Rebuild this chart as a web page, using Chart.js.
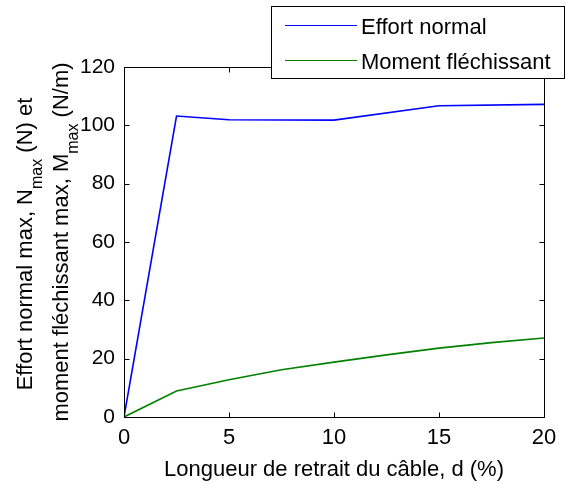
<!DOCTYPE html>
<html>
<head>
<meta charset="utf-8">
<script src="https://cdn.jsdelivr.net/npm/chart.js@4/dist/chart.umd.min.js"></script>
<style>
  html, body { margin: 0; padding: 0; background: #fff; }
  #wrap { width: 565px; height: 484px; }
</style>
</head>
<body>
<div id="wrap"><canvas id="c" width="565" height="484"></canvas></div>
<script>
// ---- data ----
const effortX = [0, 2.5, 5, 10, 15, 20];
const effortY = [0, 103.2, 101.9, 101.8, 106.7, 107.2];
const momentX = [0, 2.5, 5, 7.5, 10, 12.5, 15, 17.5, 20];
const momentY = [0, 8.9, 12.8, 16.2, 18.8, 21.3, 23.6, 25.5, 27.1];
const seriesNames = ['Effort normal', 'Moment fléchissant'];
const xTicks = [0, 5, 10, 15, 20];
const yTicks = [0, 20, 40, 60, 80, 100, 120];
const xTitle = 'Longueur de retrait du câble, d (%)';
const yTitle1 = [['Effort normal max, N', false], ['max', true], [' (N) et', false]];
const yTitle2 = [['moment fléchissant max, M', false], ['max', true], [' (N/m)', false]];

const FONT = '"Liberation Sans", Arial, sans-serif';
const colors = ['#0000ff', '#008000'];

function pts(xs, ys) { return xs.map((x, i) => ({ x: x, y: ys[i] })); }

function drawRich(ctx, parts, cx, baseY, mainSize, subSize, subOff) {
  let total = 0;
  const widths = parts.map(p => {
    ctx.font = (p[1] ? subSize : mainSize) + 'px ' + FONT;
    const w = ctx.measureText(p[0]).width;
    total += w;
    return w;
  });
  let x = cx - total / 2;
  parts.forEach((p, i) => {
    ctx.font = (p[1] ? subSize : mainSize) + 'px ' + FONT;
    ctx.fillText(p[0], x, baseY + (p[1] ? subOff : 0));
    x += widths[i];
  });
}

const decor = {
  id: 'decor',
  afterDraw(chart) {
    const ctx = chart.ctx;
    const a = chart.chartArea;
    const xs = chart.scales.x, ys = chart.scales.y;
    ctx.save();
    ctx.strokeStyle = '#000';
    ctx.lineWidth = 1;
    const L = Math.round(a.left) + 0.5, R = Math.round(a.right) + 0.5;
    const T = Math.round(a.top) + 0.5, B = Math.round(a.bottom) + 0.5;
    ctx.strokeRect(L, T, R - L, B - T);
    const tl = 5;
    ctx.beginPath();
    xTicks.forEach(v => {
      const px = Math.round(xs.getPixelForValue(v)) + 0.5;
      ctx.moveTo(px, B); ctx.lineTo(px, B - tl);
      ctx.moveTo(px, T); ctx.lineTo(px, T + tl);
    });
    yTicks.forEach(v => {
      const py = Math.round(ys.getPixelForValue(v)) + 0.5;
      ctx.moveTo(L, py); ctx.lineTo(L + tl, py);
      ctx.moveTo(R, py); ctx.lineTo(R - tl, py);
    });
    ctx.stroke();

    ctx.fillStyle = '#000';
    ctx.textAlign = 'left';
    ctx.textBaseline = 'alphabetic';
    ctx.font = '22px ' + FONT;
    const xw = ctx.measureText(xTitle).width;
    ctx.fillText(xTitle, (a.left + a.right) / 2 - xw / 2, 476);

    ctx.save();
    ctx.translate(32, 244);
    ctx.rotate(-Math.PI / 2);
    drawRich(ctx, yTitle1, 0, 0, 22, 16, 10);
    ctx.restore();
    ctx.save();
    ctx.translate(68, 242);
    ctx.rotate(-Math.PI / 2);
    drawRich(ctx, yTitle2, 0, 0, 22, 16, 10);
    ctx.restore();

    const bx = 271.5, by = 6.5, bw = 293, bh = 72;
    ctx.fillStyle = '#fff';
    ctx.fillRect(bx, by, bw, bh);
    ctx.strokeStyle = '#000';
    ctx.strokeRect(bx, by, bw, bh);
    const rowsY = [25.5, 60.5];
    seriesNames.forEach((name, i) => {
      ctx.strokeStyle = colors[i];
      ctx.lineWidth = 1.2;
      ctx.beginPath();
      ctx.moveTo(285, rowsY[i]);
      ctx.lineTo(357, rowsY[i]);
      ctx.stroke();
      ctx.fillStyle = '#000';
      ctx.font = '22px ' + FONT;
      ctx.textBaseline = 'alphabetic';
      ctx.fillText(name, 361, rowsY[i] + 8);
    });
    ctx.restore();
  }
};

new Chart(document.getElementById('c'), {
  type: 'line',
  data: {
    datasets: [
      { label: seriesNames[0], data: pts(effortX, effortY), borderColor: colors[0], borderWidth: 1.6, pointRadius: 0, fill: false, tension: 0 },
      { label: seriesNames[1], data: pts(momentX, momentY), borderColor: colors[1], borderWidth: 1.6, pointRadius: 0, fill: false, tension: 0 }
    ]
  },
  options: {
    responsive: false,
    animation: false,
    devicePixelRatio: 1,
    layout: { padding: { left: 0, right: 21, top: 67, bottom: 0 } },
    plugins: { legend: { display: false }, tooltip: { enabled: false } },
    scales: {
      x: {
        type: 'linear', min: 0, max: 20,
        grid: { display: false, drawTicks: false },
        border: { display: false },
        afterFit: s => { s.height = 67; },
        afterBuildTicks: s => { s.ticks = xTicks.map(v => ({ value: v })); },
        ticks: { color: '#000', font: { family: FONT, size: 22 }, padding: 8, maxRotation: 0, autoSkip: false }
      },
      y: {
        type: 'linear', min: 0, max: 120,
        grid: { display: false, drawTicks: false },
        border: { display: false },
        afterFit: s => { s.width = 124; },
        afterBuildTicks: s => { s.ticks = yTicks.map(v => ({ value: v })); },
        ticks: { color: '#000', font: { family: FONT, size: 21 }, padding: 9, autoSkip: false }
      }
    }
  },
  plugins: [decor]
});
</script>
</body>
</html>
